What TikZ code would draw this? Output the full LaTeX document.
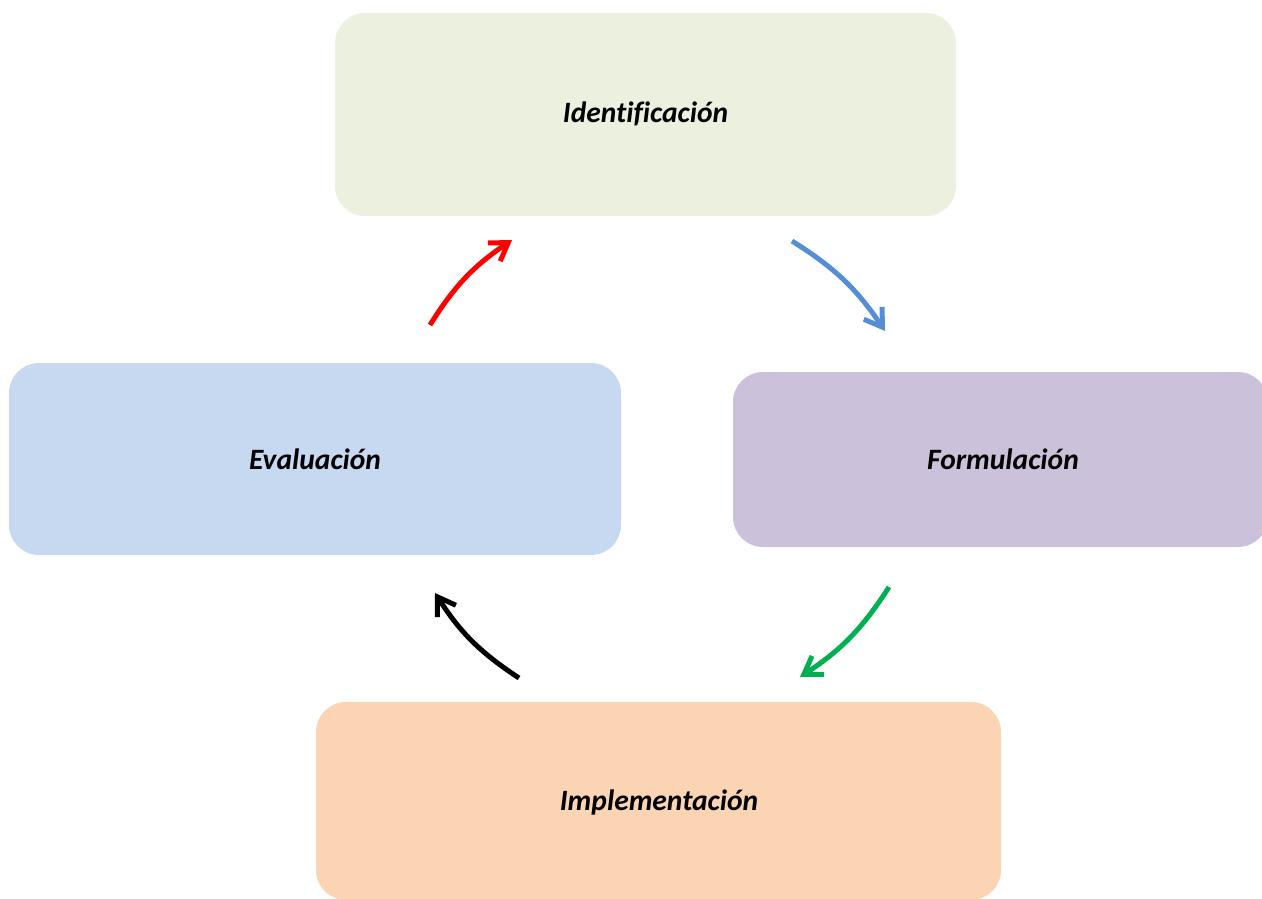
\documentclass[tikz,border=0pt]{standalone}
\usepackage{fontspec}
\setmainfont{Carlito}[Ligatures=NoCommon]
\usetikzlibrary{arrows.meta}
\definecolor{cgreen}{HTML}{EBF0DF}
\definecolor{cpurple}{HTML}{CCC1DA}
\definecolor{cblue}{HTML}{C6D9F1}
\definecolor{corange}{HTML}{FBD4B4}
\definecolor{ablue}{HTML}{558ED5}
\definecolor{agreen}{HTML}{00B050}
\tikzset{
  stage/.style={rectangle, rounded corners=30pt, inner sep=0pt, draw=none,
    font=\fontsize{29.5}{34}\selectfont\bfseries\itshape},
  cyc/.style={line width=5pt, -{Straight Barb[length=17pt,width=22pt,line width=5pt]}, bend left=12}
}
\begin{document}
\begin{tikzpicture}[x=1pt,y=-1pt]
\useasboundingbox (0,0) rectangle (1262,898);
\begin{scope}
\clip (0,0) rectangle (1262,898);
\node[stage, fill=cgreen, minimum width=621pt, minimum height=203pt] (ident) at (645.5,114.5) {};
\node[stage, fill=cpurple, minimum width=535pt, minimum height=175pt] (form) at (1000.5,459.5) {};
\node[stage, fill=cblue, minimum width=612pt, minimum height=192pt] (eval) at (315,459) {};
\node[stage, fill=corange, minimum width=685pt, minimum height=198pt] (impl) at (658.5,801) {};
\end{scope}
\node[stage] (tident) at (645.5,114) {Identificación};
\node[stage] (tform) at (1003,459) {Formulación};
\node[stage] (teval) at (315,459) {Evaluación};
\node[stage] (timpl) at (659,802) {Implementación};
\coordinate (r1) at (430,325);
\coordinate (r2) at (512,240);
\coordinate (b1) at (792,241);
\coordinate (b2) at (885,331);
\coordinate (g1) at (889,587);
\coordinate (g2) at (800,677);
\coordinate (k1) at (519,678);
\coordinate (k2) at (435,593);
\draw[cyc, red] (r1) to (r2);
\draw[cyc, ablue] (b1) to (b2);
\draw[cyc, agreen] (g1) to (g2);
\draw[cyc, black] (k1) to (k2);
\end{tikzpicture}
\end{document}
